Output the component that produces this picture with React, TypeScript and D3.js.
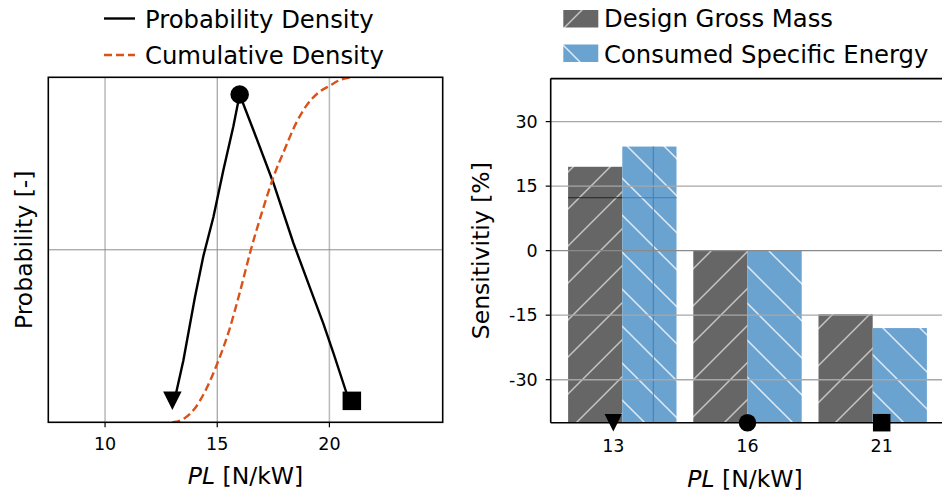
import * as d3 from 'd3'

// left panel: PL distribution
const pdfX = [13.15, 13.49, 14.01, 14.38, 14.83, 15.27, 15.72, 16.0, 16.61, 17.5, 18.39, 19.28, 19.73, 20.18, 20.77]
const pdfY = [0.005, 0.033, 0.085, 0.118, 0.15, 0.188, 0.224, 0.25, 0.221, 0.178, 0.129, 0.085, 0.063, 0.039, 0.006]
const cdfX = [13.0, 13.5, 14.0, 14.5, 15.0, 15.5, 16.0, 16.5, 17.0, 17.5, 18.0, 18.5, 19.0, 19.5, 20.0, 20.5, 21.0]
const cdfY = [0, 0.01, 0.04, 0.095, 0.17, 0.26, 0.375, 0.5, 0.61, 0.71, 0.79, 0.865, 0.92, 0.955, 0.975, 0.993, 1.0]
const markerX = [13, 16, 21]
const markerPdf = [0, 0.25, 0]
const markerShapes = ['tri', 'circle', 'square']
const leftTicks = [10, 15, 20]

// right panel: sensitivities
const categories = ['13', '16', '21']
const grossMass = [19.5, 0, -14.8]
const specEnergy = [24.2, 0, -18.0]
const yTicksRight = [30, 15, 0, -15, -30]
const seriesNames = ['Design Gross Mass', 'Consumed Specific Energy']
const ghostLevel = 12.3

const FONT = 'DejaVu Sans, sans-serif'
const GRAY = '#666666'
const BLUE = '#6ba3d0'
const ORANGE = '#d95319'

function Marker({ shape, x, y, s }: { shape: string; x: number; y: number; s: number }) {
  const h = s / 2
  if (shape === 'circle') return <circle cx={x} cy={y} r={h} fill="#000" />
  if (shape === 'square') return <rect x={x - h} y={y - h} width={s} height={s} fill="#000" />
  return <path d={`M${x},${y + h}L${x - h},${y - h}L${x + h},${y - h}Z`} fill="#000" />
}

export default function App() {
  const W = 942
  const H = 493

  // left axes
  const L = { x0: 48.3, x1: 442.7, y0: 77.3, y1: 422.3 }
  const xL = d3.scaleLinear().domain([7.47, 25.05]).range([L.x0, L.x1])
  const yPdf = d3.scaleLinear().domain([-0.0175, 0.264]).range([L.y1, L.y0])
  const yCdf = d3.scaleLinear().domain([0, 1]).range([L.y1, L.y0])

  const pdfLine = d3.line<number>().x((_, i) => xL(pdfX[i])).y((_, i) => yPdf(pdfY[i]))
  const cdfLine = d3.line<number>().x((_, i) => xL(cdfX[i])).y((_, i) => yCdf(cdfY[i])).curve(d3.curveMonotoneX)

  // right axes
  const R = { x0: 550.7, x1: 944, y0: 78.6, y1: 422.7 }
  const yR = d3.scaleLinear().domain([-40, 40]).range([R.y1, R.y0])
  const groupX = d3.scalePoint<string>().domain(categories).range([622.3, 872.7])
  const tickX = d3.scalePoint<string>().domain(categories).range([613.3, 881.7])
  const barW = 54.2

  const s = 37
  const slash = `M0,${s}L${s},0M${-s / 4},${s / 4}L${s / 4},${-s / 4}M${(3 * s) / 4},${(5 * s) / 4}L${(5 * s) / 4},${(3 * s) / 4}`
  const back = `M0,0L${s},${s}M${-s / 4},${(3 * s) / 4}L${s / 4},${(5 * s) / 4}M${(3 * s) / 4},${-s / 4}L${(5 * s) / 4},${s / 4}`

  const label = (x: number, y: number, anchor: string, rotate?: boolean) => ({
    x,
    y,
    textAnchor: anchor as any,
    transform: rotate ? `rotate(-90,${x},${y})` : undefined,
  })

  return (
    <div style={{ position: 'fixed', left: 0, top: 0 }}>
      <svg width={W} height={H} style={{ display: 'block', background: '#fff' }} fontFamily={FONT}>
        <defs>
          <pattern id="hatchGray" patternUnits="userSpaceOnUse" width={s} height={s}>
            <rect width={s} height={s} fill={GRAY} />
            <path d={slash} stroke="#c4c4c4" strokeWidth={1.5} />
          </pattern>
          <pattern id="hatchBlue" patternUnits="userSpaceOnUse" width={s} height={s}>
            <rect width={s} height={s} fill={BLUE} />
            <path d={back} stroke="#dfeaf5" strokeWidth={1.5} />
          </pattern>
          <clipPath id="clipL">
            <rect x={L.x0} y={L.y0} width={L.x1 - L.x0} height={L.y1 - L.y0} />
          </clipPath>
        </defs>

        {/* ---------- left panel ---------- */}
        {leftTicks.map((t) => (
          <line key={t} x1={xL(t)} x2={xL(t)} y1={L.y0} y2={L.y1}
            stroke={t === 15 ? '#8c8c8c' : '#bdbdbd'} strokeWidth={t === 15 ? 1 : 1.6} />
        ))}
        <line x1={L.x0} x2={L.x1} y1={yCdf(0.5)} y2={yCdf(0.5)} stroke="#8c8c8c" strokeWidth={1} />

        <g clipPath="url(#clipL)">
          <path d={pdfLine(pdfX) ?? ''} fill="none" stroke="#000" strokeWidth={2.4} />
          <path d={cdfLine(cdfX) ?? ''} fill="none" stroke={ORANGE} strokeWidth={2.4} strokeDasharray="8 4" />
        </g>
        {markerX.map((m, i) => (
          <Marker key={i} shape={markerShapes[i]} x={xL(m)} y={yPdf(markerPdf[i])} s={18.5} />
        ))}

        <rect x={L.x0} y={L.y0} width={L.x1 - L.x0} height={L.y1 - L.y0} fill="none" stroke="#000" strokeWidth={1.6} />
        {leftTicks.map((t) => (
          <g key={t}>
            <line x1={xL(t)} x2={xL(t)} y1={L.y1} y2={L.y1 + 5} stroke="#000" strokeWidth={1.2} />
            <text x={xL(t)} y={450} textAnchor="middle" fontSize={17.5}>{t}</text>
          </g>
        ))}
        <text {...label((L.x0 + L.x1) / 2, 484, 'middle')} fontSize={23.5}>
          <tspan fontStyle="italic">PL</tspan> [N/kW]
        </text>
        <text {...label(32, (L.y0 + L.y1) / 2, 'middle', true)} fontSize={23.5}>Probability [-]</text>

        {/* left legend */}
        <line x1={104} x2={135} y1={18.5} y2={18.5} stroke="#000" strokeWidth={2.4} />
        <text x={145} y={27.5} fontSize={24.3}>Probability Density</text>
        <line x1={104} x2={135} y1={55} y2={55} stroke={ORANGE} strokeWidth={2.4} strokeDasharray="8 4" />
        <text x={145} y={63.5} fontSize={24.3}>Cumulative Density</text>

        {/* ---------- right panel ---------- */}
        {categories.map((c, i) => (
          <g key={c}>
            <rect x={(groupX(c) ?? 0) - barW} y={yR(grossMass[i])} width={barW}
              height={yR(-40) - yR(grossMass[i])} fill="url(#hatchGray)" />
            <rect x={groupX(c) ?? 0} y={yR(specEnergy[i])} width={barW}
              height={yR(-40) - yR(specEnergy[i])} fill="url(#hatchBlue)" />
          </g>
        ))}
        {/* faint edges of an overlapped bar in the first group */}
        <line x1={(groupX('13') ?? 0) - barW} x2={groupX('13') ?? 0} y1={yR(ghostLevel)} y2={yR(ghostLevel)} stroke="#222" strokeWidth={1} />
        <line x1={groupX('13') ?? 0} x2={(groupX('13') ?? 0) + barW} y1={yR(ghostLevel)} y2={yR(ghostLevel)} stroke="#3d7fbd" strokeWidth={1} />
        <line x1={(groupX('13') ?? 0) + 31} x2={(groupX('13') ?? 0) + 31} y1={yR(specEnergy[0])} y2={R.y1} stroke="#3d7fbd" strokeWidth={1} />

        {yTicksRight.map((t) => (
          <g key={t}>
            <line x1={R.x0} x2={R.x1} y1={yR(t)} y2={yR(t)} stroke={t === 0 ? '#8a8a8a' : '#a8a8a8'} strokeWidth={1.4} />
            <line x1={R.x0 - 5} x2={R.x0} y1={yR(t)} y2={yR(t)} stroke="#000" strokeWidth={1.2} />
            <text x={R.x0 - 13} y={yR(t)} dy="0.36em" textAnchor="end" fontSize={17.5}>{t}</text>
          </g>
        ))}
        <line x1={R.x0} x2={R.x0} y1={R.y0} y2={R.y1} stroke="#000" strokeWidth={1.6} />
        <line x1={R.x0} x2={R.x1} y1={R.y0} y2={R.y0} stroke="#000" strokeWidth={1.6} />
        <line x1={R.x0} x2={R.x1} y1={R.y1} y2={R.y1} stroke="#000" strokeWidth={1.6} />

        {categories.map((c, i) => (
          <g key={c}>
            <Marker shape={markerShapes[i]} x={tickX(c) ?? 0} y={R.y1} s={17.5} />
            <text x={tickX(c) ?? 0} y={452} textAnchor="middle" fontSize={17.5}>{c}</text>
          </g>
        ))}
        <text {...label(745, 486.5, 'middle')} fontSize={23.5}>
          <tspan fontStyle="italic">PL</tspan> [N/kW]
        </text>
        <text {...label(489, (R.y0 + R.y1) / 2, 'middle', true)} fontSize={23.5}>Sensitivitiy [%]</text>

        {/* right legend */}
        {seriesNames.map((n, i) => (
          <g key={n}>
            <rect x={563.3} y={10 + i * 34.5} width={35} height={17.5} fill={i === 0 ? 'url(#hatchGray)' : 'url(#hatchBlue)'} />
            <text x={604} y={27 + i * 35.5} fontSize={24.3}>{n}</text>
          </g>
        ))}
      </svg>
    </div>
  )
}
